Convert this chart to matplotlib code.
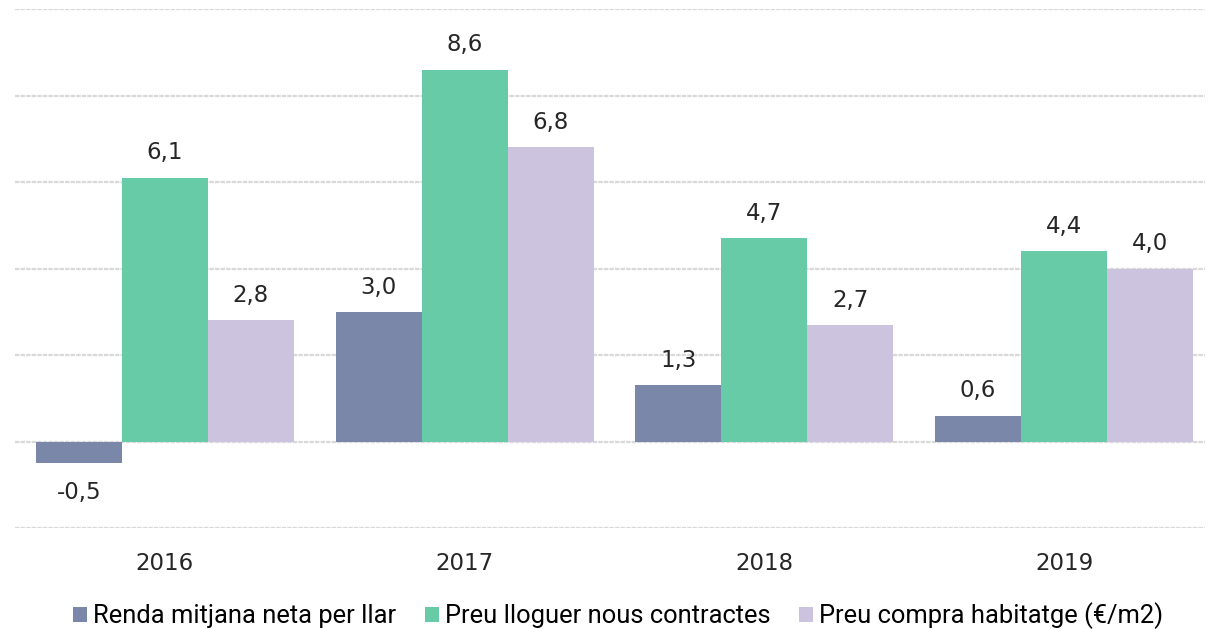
import matplotlib.pyplot as plt
from matplotlib.patches import Patch
import numpy as np

years = ['2016', '2017', '2018', '2019']
renda = [-0.5, 3.0, 1.3, 0.6]
lloguer = [6.1, 8.6, 4.7, 4.4]
compra = [2.8, 6.8, 2.7, 4.0]
series_names = ['Renda mitjana neta per llar',
                'Preu lloguer nous contractes',
                'Preu compra habitatge (€/m2)']
colors = ['#7b87a9', '#67cba8', '#ccc4df']

label_font = ['DejaVu Sans']
legend_font = ['Roboto', 'DejaVu Sans']

fig = plt.figure(figsize=(12.18, 6.29), dpi=100)
ax = fig.add_axes([15/1218, 1 - 528/629, 1190/1218, 519/629])

x = np.arange(len(years))
w = 0.287
for i, (vals, c) in enumerate(zip([renda, lloguer, compra], colors)):
    pos = x + (i - 1) * w
    ax.bar(pos, vals, width=w, color=c, zorder=3)
    for px, v in zip(pos, vals):
        txt = f'{v:.1f}'.replace('.', ',')
        if v >= 0:
            ax.annotate(txt, (px, v), xytext=(0, 9.5), textcoords='offset points',
                        ha='center', va='bottom', fontsize=16.5, color='#262626',
                        family=label_font)
        else:
            ax.annotate(txt, (px, v), xytext=(0, -13), textcoords='offset points',
                        ha='center', va='top', fontsize=16.5, color='#262626',
                        family=label_font)

ax.set_ylim(-2, 10)
ax.set_xlim(-0.5, 3.47)
ax.set_yticks(np.arange(-2, 11, 2))
ax.yaxis.grid(True, color='#d9d9d9', linewidth=1.6, linestyle=(0, (2, 0.5)), zorder=0)
ax.tick_params(axis='y', left=False, labelleft=False)
ax.tick_params(axis='x', bottom=False, pad=13.5)
ax.set_xticks(x)
ax.set_xticklabels(years, fontsize=16.5, color='#262626', family=label_font)
for s in ax.spines.values():
    s.set_visible(False)

handles = [Patch(facecolor=c, edgecolor='none') for c in colors]
fig.legend(handles, series_names, loc='center', bbox_to_anchor=(0.5074, 0.021),
           ncol=3, frameon=False, handlelength=0.55, handleheight=0.55,
           handletextpad=0.24, columnspacing=1.1, borderpad=0,
           prop={'family': legend_font, 'size': 18.4})

fig.savefig('out.png', dpi=100)
